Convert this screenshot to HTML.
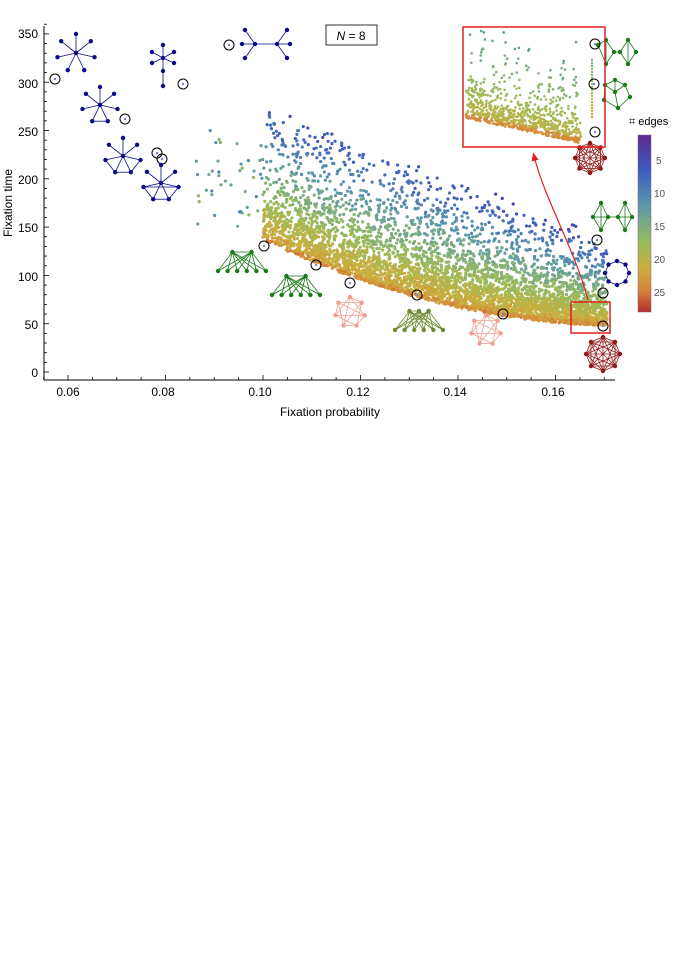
<!DOCTYPE html>
<html><head><meta charset="utf-8"><style>body{margin:0;background:#fff}svg{display:block}text{font-family:"Liberation Sans",sans-serif}</style></head>
<body>
<svg id="s" width="676" height="956" viewBox="0 0 676 956" xmlns="http://www.w3.org/2000/svg">
<defs><linearGradient id="cb" x1="0" y1="0" x2="0" y2="1">
<stop offset="0" stop-color="#5a2a90"/><stop offset="0.2" stop-color="#3c5cc0"/><stop offset="0.4" stop-color="#5b9aa8"/><stop offset="0.6" stop-color="#96bb5e"/><stop offset="0.75" stop-color="#cbb03e"/><stop offset="0.88" stop-color="#d6833a"/><stop offset="1" stop-color="#b3302a"/></linearGradient>
<marker id="ah" markerWidth="8" markerHeight="8" refX="4" refY="4" orient="auto"><path d="M0,1 L7,4 L0,7z" fill="#e02020"/></marker></defs>
<g id="pts"></g>
<g id="ins"></g>
<g id="gr"></g>
<g stroke="#000" stroke-width="1" fill="none">
<line x1="44" y1="26" x2="44" y2="380"/>
<line x1="44" y1="380" x2="615" y2="380"/>
</g>
<g id="ticks" stroke="#000" stroke-width="0.8"></g>
<g font-size="12" fill="#000" text-anchor="middle">
<text x="68" y="396">0.06</text><text x="163" y="396">0.08</text><text x="260" y="396">0.10</text><text x="358" y="396">0.12</text><text x="455" y="396">0.14</text><text x="553" y="396">0.16</text>
<text x="330" y="416">Fixation probability</text>
</g>
<g font-size="12" fill="#000" text-anchor="end">
<text x="38" y="38">350</text><text x="38" y="88">300</text><text x="38" y="136">250</text><text x="38" y="184">200</text><text x="38" y="232">150</text><text x="38" y="281">100</text><text x="38" y="329">50</text><text x="38" y="377">0</text>
</g>
<text x="12" y="203" font-size="12" transform="rotate(-90 12 203)" text-anchor="middle">Fixation time</text>
<rect x="326" y="25" width="51" height="20" fill="#fff" stroke="#000" stroke-width="0.8"/>
<text x="351" y="40" font-size="12" text-anchor="middle"><tspan font-style="italic">N</tspan> = 8</text>
<rect x="463" y="27" width="142" height="120" fill="none" stroke="#e02020" stroke-width="1.5"/>
<rect x="571" y="302" width="39" height="31" fill="none" stroke="#e02020" stroke-width="1.5"/>
<path d="M588,300 C575,250 545,200 534,156" fill="none" stroke="#e02020" stroke-width="1.2" marker-end="url(#ah)"/>
<rect x="638" y="135" width="13" height="177" fill="url(#cb)" stroke="#8a5a9a" stroke-width="0.5"/>
<g font-size="10" fill="#555"><text x="656" y="164">5</text><text x="654" y="197">10</text><text x="654" y="230">15</text><text x="654" y="263">20</text><text x="654" y="296">25</text></g>
<text x="629" y="125" font-size="11">⌗ edges</text>
</svg>
<script>
(function(){
var NS="http://www.w3.org/2000/svg";
function el(p,t,a){var e=document.createElementNS(NS,t);for(var k in a)e.setAttribute(k,a[k]);p.appendChild(e);return e;}
var seed=7;function r(){seed=(seed*16807)%2147483647;return (seed-1)/2147483646;}
var X=function(p){return 68+(p-0.06)*4875},Y=function(t){return 372-t*0.966};
var tk=document.getElementById('ticks');
for(var p=0.055;p<=0.171;p+=0.005){var x=X(p);el(tk,'line',{x1:x,y1:380,x2:x,y2:380-(Math.abs(Math.round(p*1000)%20)<1?5:3)});}
for(var t=0;t<=360;t+=10){var y=Y(t);el(tk,'line',{x1:44,y1:y,x2:44+(t%50==0?5:3),y2:y});}
var stops=[[0,[90,42,144]],[0.2,[60,92,192]],[0.4,[91,154,168]],[0.6,[150,187,94]],[0.75,[203,176,62]],[0.88,[214,131,58]],[1,[179,48,42]]];
function col(v){v=Math.max(0,Math.min(1,v));for(var i=1;i<stops.length;i++){if(v<=stops[i][0]){var a=stops[i-1],b=stops[i],f=(v-a[0])/(b[0]-a[0]);return 'rgb('+[0,1,2].map(function(j){return Math.round(a[1][j]+(b[1][j]-a[1][j])*f)}).join(',')+')';}}return 'rgb(179,48,42)';}
function botF(p){var d=0.17-p;return 48+16000*d*d+150*d;}
function topF(p){return Math.min(290,150+(0.16-p)*2000);}
var g=document.getElementById('pts');
for(var i=0;i<5200;i++){
 var p=0.086+Math.pow(r(),0.8)*0.085; if(p>0.1705)continue;
 if(p<0.10){ if(r()<0.93)continue;
  var tt=150+r()*100; if(r()<0.15)tt=200+r()*50;
  el(g,'circle',{cx:X(p),cy:Y(tt),r:1.6,fill:col(0.3+r()*0.3)});continue;}
 var b=botF(p); var T=topF(p);
 var s=18+(0.17-p)*350;
 var h=-Math.log(1-r()*0.999)*s;
 if(r()<0.15)h=r()*(T-b);
 var tt=b+h; if(tt>T+10||tt>290)continue;
 var H=Math.max(60,T-b);
 var v=0.8-0.62*(h/H)+(r()-0.5)*0.12;
 if(h<4)v+=0.05;
 el(g,'circle',{cx:X(p)+(r()-0.5)*1.5,cy:Y(tt),r:1.6,fill:col(v)});
}
var ig=document.getElementById('ins');
for(var i=0;i<900;i++){
 var x=466+r()*115; var bt=118+(x-466)*0.22;
 var stripe=Math.sin(x*0.55)>0.2;
 var h=-Math.log(1-r()*0.99)*(stripe?30:12);
 var y=bt-h; if(y<30)continue;
 el(ig,'circle',{cx:x,cy:y,r:1.3,fill:col(bt-y<5?0.85:0.72-(h/90)*0.3+(r()-0.5)*0.08)});
}
for(var y=60;y<120;y+=3)el(ig,'circle',{cx:592,cy:y,r:1.2,fill:col(0.5+(y-60)/200)});
var G=document.getElementById('gr');
function gph(nodes,edges,c,rad){edges.forEach(function(e){el(G,'line',{x1:nodes[e[0]][0],y1:nodes[e[0]][1],x2:nodes[e[1]][0],y2:nodes[e[1]][1],stroke:c,'stroke-width':0.8});});nodes.forEach(function(n){el(G,'circle',{cx:n[0],cy:n[1],r:rad||2.2,fill:c});});}
function ring(cx,cy,R,n,off){var a=[];for(var i=0;i<n;i++){var t=(off||-Math.PI/2)+i*2*Math.PI/n;a.push([cx+R*Math.cos(t),cy+R*Math.sin(t)]);}return a;}
function star(cx,cy,R,n,c,extra){var nd=[[cx,cy]].concat(ring(cx,cy,R,n));var ed=[];for(var i=1;i<=n;i++)ed.push([0,i]);if(extra)extra.forEach(function(e){ed.push(e)});gph(nd,ed,c);}
function mark(x,y){el(G,'circle',{cx:x,cy:y,r:5,fill:'none',stroke:'#000','stroke-width':1});el(G,'circle',{cx:x,cy:y,r:1.2,fill:'#6a8ad0'});}
var B='#0a0a8a';
star(76,53,19,7,B);mark(55,79);
gph([[163,58],[163,45],[152,52],[174,52],[152,63],[174,63],[163,71],[163,86]],[[0,1],[0,2],[0,3],[0,4],[0,5],[0,6],[6,7]],B);mark(183,84);
gph([[255,44],[277,44],[245,30],[245,58],[242,44],[287,30],[287,58],[290,44]],[[0,1],[0,2],[0,3],[0,4],[1,5],[1,6],[1,7]],B);mark(229,45);
star(100,105,18,7,B,[[4,5]]);mark(125,119);
star(123,156,18,7,B,[[3,4],[4,5],[5,6]]);mark(157,153);mark(162,159);
star(161,183,18,7,B,[[3,4],[4,5],[5,6],[3,6]]);
function bip(x0,y0,w,nt,nb,c){var nd=[],ed=[];for(var i=0;i<nt;i++)nd.push([x0+w*(0.3+0.4*i/(nt-1)),y0]);for(var j=0;j<nb;j++)nd.push([x0+w*j/(nb-1),y0+19]);for(var i=0;i<nt;i++)for(var j=0;j<nb;j++)ed.push([i,nt+j]);ed.push([0,1]);gph(nd,ed,c);}
bip(218,252,48,2,6,'#1a7a1a');mark(264,246);
bip(272,276,48,2,6,'#1a7a1a');mark(316,265);
bip(395,311,48,3,6,'#6e8a30');mark(417,295);
function comp(cx,cy,R,n,c,skip){var nd=ring(cx,cy,R,n);var ed=[];for(var i=0;i<n;i++)for(var j=i+1;j<n;j++)if(!skip||(i+j)%skip)ed.push([i,j]);gph(nd,ed,c);}
comp(350,312,15,7,'#f0a090',3);mark(350,283);
comp(486,330,15,7,'#f0a090',3);mark(503,314);
comp(590,158,15,8,'#901818');mark(595,132);
comp(603,354,17,8,'#901818');mark(603,326);
gph(ring(617,273,12,8,0),[[0,1],[1,2],[2,3],[3,4],[4,5],[5,6],[6,7],[7,0]],B);mark(603,293);
gph([[598,45],[606,40],[606,64],[614,52],[620,52],[628,40],[628,64],[636,52]],[[0,1],[0,2],[1,3],[2,3],[1,2],[4,5],[4,6],[5,7],[6,7],[5,6],[3,4]],'#1a7a1a');mark(595,44);
gph([[605,85],[615,80],[625,85],[630,97],[618,108],[604,100],[615,92]],[[0,1],[1,2],[2,3],[3,4],[4,5],[5,0],[6,0],[6,1],[6,2],[6,4]],'#1a7a1a');mark(594,84);
gph([[593,217],[601,203],[601,230],[608,217],[618,217],[625,203],[625,230],[632,217]],[[0,1],[0,2],[1,3],[2,3],[1,2],[0,3],[3,4],[4,5],[4,6],[5,7],[6,7],[5,6],[4,7]],'#1a7a1a');mark(597,240);
})();
</script>
</body></html>
